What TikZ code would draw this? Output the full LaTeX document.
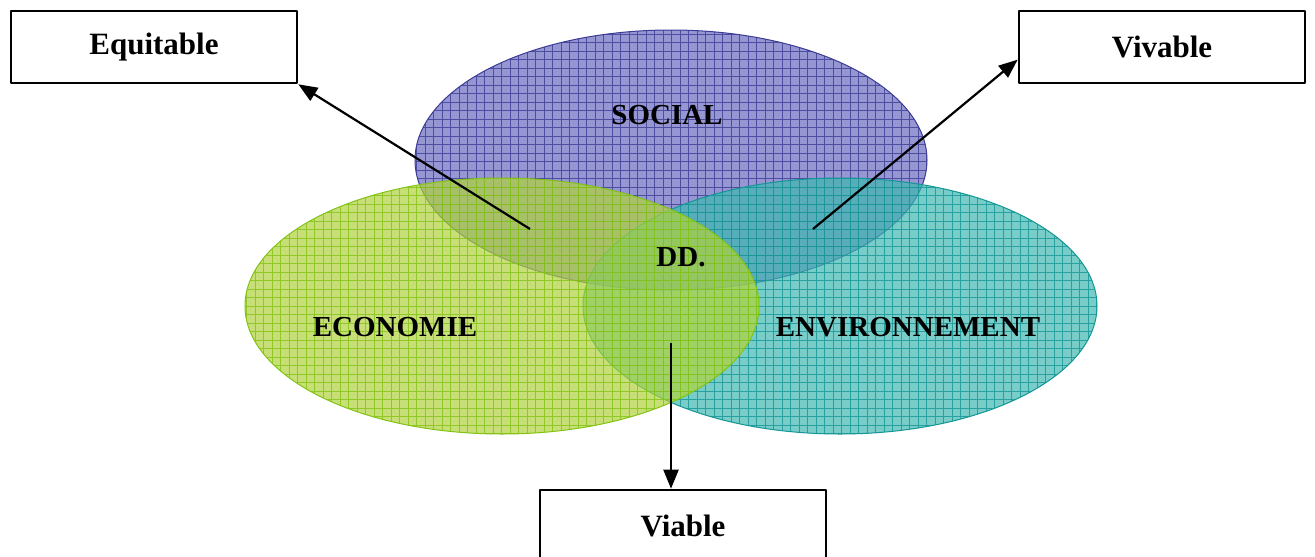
\documentclass[tikz,border=0pt]{standalone}
\usepackage{fontspec}
\setmainfont{Liberation Serif}
\usetikzlibrary{arrows.meta}
\definecolor{socfill}{RGB}{105,105,191}
\definecolor{socline}{RGB}{60,60,150}
\definecolor{ecofill}{RGB}{175,210,60}
\definecolor{ecoline}{RGB}{130,195,20}
\definecolor{envfill}{RGB}{62,184,176}
\definecolor{envline}{RGB}{20,150,150}
\tikzset{
  sphere/.style={fill opacity=0.7},
  mesh/.style={line width=0.9pt, opacity=0.8},
  label/.style={font=\fontsize{29}{32}\selectfont\bfseries},
  result/.style={draw, line width=2.6pt, minimum width=286pt, minimum height=72pt, inner sep=0pt, font=\fontsize{31}{34}\selectfont\bfseries},
  link/.style={line width=2.2pt, -{Triangle[length=19pt,width=15pt]}}
}
\begin{document}
\begin{tikzpicture}[x=1pt, y=-1pt, line join=round]
		\useasboundingbox (0,0) rectangle (1315,557);
		% the three pillars
		\fill[socfill, sphere] (671,160) ellipse (256 and 130);
		\begin{scope}
			\clip (671,160) ellipse (256 and 130);
			\draw[socline, mesh, step=8.5pt] (400,24) grid (940,300);
		\end{scope}
		\draw[socline, line width=1pt] (671,160) ellipse (256 and 130);
		\fill[envfill, sphere] (840,306) ellipse (257 and 128);
		\begin{scope}
			\clip (840,306) ellipse (257 and 128);
			\draw[envline, mesh, step=8.5pt] (576,170) grid (1104,440);
		\end{scope}
		\draw[envline, line width=1pt] (840,306) ellipse (257 and 128);
		\fill[ecofill, sphere] (502,306) ellipse (257 and 128);
		\begin{scope}
			\clip (502,306) ellipse (257 and 128);
			\draw[ecoline, mesh, step=8.5pt] (240,170) grid (768,440);
		\end{scope}
		\draw[ecoline, line width=1pt] (502,306) ellipse (257 and 128);
		\node[label] (social) at (667,115) {SOCIAL};
		\node[label] (dd) at (681,257) {DD.};
		\node[label] (economie) at (395,327) {ECONOMIE};
		\node[label] (environnement) at (908,327) {ENVIRONNEMENT};
		% the three results
		\node[result] (equitable) at (154,47) {Equitable};
		\node[result] (vivable) at (1162,47) {Vivable};
		\node[result] (viable) at (683,526) {Viable};
		\coordinate (soceco) at (530,229);
		\coordinate (socenv) at (813,229);
		\coordinate (ecoenv) at (671,343);
		\draw[link] (soceco) -- (equitable.south east);
		\draw[link] (socenv) -- (vivable.185);
		\draw[link] (ecoenv) -- (ecoenv |- viable.north);
\end{tikzpicture}
\end{document}
